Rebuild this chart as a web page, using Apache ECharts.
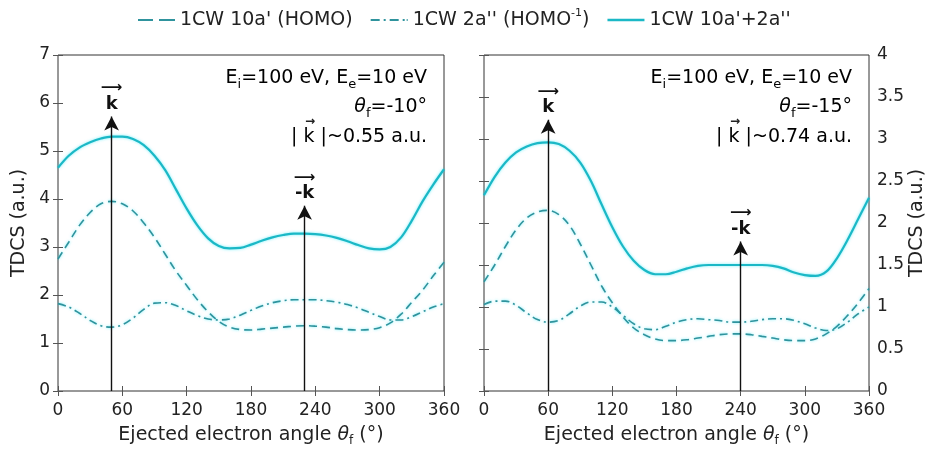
<!DOCTYPE html>
<html>
<head>
<meta charset="utf-8">
<script src="https://cdn.jsdelivr.net/npm/echarts@6/dist/echarts.min.js"></script>
<style>
html,body{margin:0;padding:0;background:#fff;}
#chart{width:935px;height:452px;}
</style>
</head>
<body>
<div id="chart"></div>
<script>
// ---- data ----
const angles = [0,10,20,30,40,50,60,70,80,90,100,110,120,130,140,150,160,170,180,190,200,210,220,230,240,250,260,270,280,290,300,310,320,330,340,350,360];
const seriesNames = ["1CW 10a' (HOMO)", "1CW 2a'' (HOMO-1)", "1CW 10a'+2a''"];

// Left panel (theta_f = -10 deg)
const leftHomo   = [2.75,3.10,3.45,3.72,3.90,3.95,3.90,3.75,3.50,3.20,2.85,2.50,2.20,1.90,1.65,1.45,1.33,1.28,1.27,1.29,1.31,1.33,1.35,1.36,1.35,1.33,1.30,1.28,1.27,1.28,1.32,1.42,1.60,1.85,2.10,2.40,2.68];
const leftHomo1  = [1.82,1.75,1.62,1.47,1.36,1.33,1.38,1.52,1.70,1.83,1.84,1.78,1.67,1.57,1.50,1.48,1.50,1.58,1.68,1.77,1.84,1.88,1.90,1.90,1.90,1.88,1.85,1.80,1.73,1.64,1.55,1.48,1.48,1.55,1.65,1.75,1.82];
const leftSum    = [4.65,4.90,5.07,5.18,5.26,5.30,5.30,5.25,5.12,4.90,4.60,4.20,3.80,3.45,3.18,3.02,2.97,2.98,3.05,3.13,3.20,3.25,3.28,3.28,3.27,3.24,3.19,3.12,3.04,2.97,2.95,3.00,3.20,3.55,3.95,4.30,4.62];

// Right panel (theta_f = -15 deg)
const rightHomo  = [1.30,1.50,1.72,1.92,2.06,2.13,2.15,2.10,1.97,1.75,1.50,1.25,1.05,0.88,0.75,0.67,0.62,0.60,0.60,0.61,0.63,0.65,0.67,0.68,0.68,0.67,0.65,0.63,0.61,0.60,0.60,0.62,0.68,0.77,0.90,1.05,1.22];
const rightHomo1 = [1.03,1.07,1.07,1.02,0.93,0.85,0.82,0.84,0.92,1.01,1.06,1.06,1.00,0.90,0.80,0.74,0.73,0.77,0.82,0.85,0.86,0.85,0.84,0.82,0.82,0.83,0.85,0.86,0.86,0.84,0.80,0.75,0.72,0.74,0.82,0.92,1.00];
const rightSum   = [2.33,2.55,2.72,2.84,2.91,2.95,2.96,2.94,2.86,2.72,2.50,2.22,1.95,1.72,1.55,1.44,1.39,1.39,1.42,1.46,1.49,1.50,1.50,1.50,1.50,1.50,1.50,1.49,1.46,1.41,1.38,1.37,1.42,1.58,1.80,2.05,2.30];

// Momentum arrows: [angle, tip value, label]
const leftArrows  = [[50, 5.72, 'k'], [230, 3.86, '-k']];
const rightArrows = [[60, 3.23, 'k'], [240, 1.78, '-k']];

const leftYTicks  = {min:0, max:7, interval:1};
const rightYTicks = {min:0, max:4, interval:0.5};
const xTickSpec   = {min:0, max:360, interval:60};

// ---- chart ----
const FONT = 'DejaVu Sans';
const TXT = '#222';
const TICK_FS = 17, NAME_FS = 19, ANN_FS = 19, LEG_FS = 19;
const chart = echarts.init(document.getElementById('chart'), null, {renderer:'canvas'});

function pairs(arr){ return angles.map((a,i)=>[a, arr[i]]); }

const dashColor = '#2f939d';
const solidColor = '#1bb8c6';
const halo = {shadowBlur:3, shadowColor:'rgba(0,225,245,0.55)'};
const DASH = [8,5], DASHDOT = [8,4,2,4];

// legend icon shapes (line glyphs)
const ICON_DASH    = 'path://M0,0H15V2H0Z M21,0H37V2H21Z';
const ICON_DASHDOT = 'path://M0,0H9V2H0Z M13,0H15V2H13Z M19,0H28V2H19Z M32,0H34V2H32Z M36,0H37V2H36Z';
const ICON_SOLID   = 'path://M0,0H37V2.4H0Z';

function xAx(grid, pos, labels){
  return {type:'value', gridIndex:grid, position:pos, min:xTickSpec.min, max:xTickSpec.max, interval:xTickSpec.interval,
    axisLine:{show:false}, splitLine:{show:false},
    axisTick:{show:true, inside:true, length:5, lineStyle:{color:'#555'}},
    axisLabel:{show:labels, margin:11, fontSize:TICK_FS, fontFamily:FONT, color:TXT},
    name: labels ? '{n|Ejected electron angle }{it|θ}{sub|f}{n| (°)}' : '',
    nameLocation:'middle', nameGap:32,
    nameTextStyle:{fontFamily:FONT, color:TXT, fontSize:NAME_FS,
      rich:{n:{fontSize:NAME_FS, fontFamily:FONT, color:TXT, lineHeight:24},
            it:{fontSize:NAME_FS, fontFamily:FONT, color:TXT, fontStyle:'italic', lineHeight:24},
            sub:{fontSize:12, fontFamily:FONT, color:TXT, verticalAlign:'bottom', lineHeight:12}}}
  };
}
function yAx(grid, pos, labels, t, gap){
  return {type:'value', gridIndex:grid, position:pos, min:t.min, max:t.max, interval:t.interval,
    axisLine:{show:false}, splitLine:{show:false},
    axisTick:{show:true, inside:true, length:5, lineStyle:{color:'#555'}},
    axisLabel:{show:labels, margin:8, fontSize:TICK_FS, fontFamily:FONT, color:TXT},
    name: labels ? 'TDCS (a.u.)' : '', nameLocation:'middle', nameGap:gap||30, nameRotate:90,
    nameTextStyle:{fontFamily:FONT, color:TXT, fontSize:NAME_FS}
  };
}

function curve(name, data, xi, yi, kind){
  const ls = kind==='solid' ? {color:solidColor, width:2.2, type:'solid'} :
             kind==='dash'  ? {color:dashColor, width:1.6, type:DASH} :
                              {color:dashColor, width:1.6, type:DASHDOT};
  return {type:'line', name:name, data:pairs(data), xAxisIndex:xi, yAxisIndex:yi,
    showSymbol:false, symbol:'none', smooth:0.35, color:ls.color,
    lineStyle:Object.assign({}, ls, halo), z:2, silent:true};
}

function arrowSeries(arrows, xi, yi){
  return {type:'line', name:'arrows', data:[], xAxisIndex:xi, yAxisIndex:yi, z:5, silent:true,
    markLine:{silent:true, symbol:['none','arrow'], symbolSize:[11,14], animation:false,
      lineStyle:{color:'#111', width:1.4, type:'solid'},
      data: arrows.map(a=>[
        {coord:[a[0],0], symbol:'none'},
        {coord:[a[0],a[1]], label:{show:true, position:'end', distance:3,
          formatter:'{ar|⟶}\n{k|'+a[2]+'}',
          rich:{ar:{fontSize:15, fontFamily:FONT, color:'#111', lineHeight:12, align:'center', fontWeight:'bold'},
                k:{fontSize:18, fontFamily:FONT, fontWeight:'bold', color:'#111', lineHeight:19, align:'center'}}}}
      ])
    }};
}

const annRich = {
  n:{fontSize:ANN_FS, fontFamily:FONT, color:TXT, lineHeight:26},
  it:{fontSize:ANN_FS, fontFamily:FONT, color:TXT, fontStyle:'italic', lineHeight:26},
  sub:{fontSize:13, fontFamily:FONT, color:TXT, verticalAlign:'bottom', lineHeight:13}
};
const meas = document.createElement('canvas').getContext('2d');
function textW(s, fs){ meas.font = fs+'px "'+FONT+'"'; return meas.measureText(s).width; }

function annText(x, thetaText, kText){
  const tail = ' |~'+kText+' a.u.';
  const kx = x - textW(tail, ANN_FS) - textW('k', ANN_FS)/2;
  return [
    {type:'text', x:x, y:78, style:{text:'{n|E}{sub|i}{n|=100 eV, E}{sub|e}{n|=10 eV}', rich:annRich, align:'right', verticalAlign:'middle'}},
    {type:'text', x:x, y:107, style:{text:'{it|θ}{sub|f}{n|='+thetaText+'}', rich:annRich, align:'right', verticalAlign:'middle'}},
    {type:'text', x:x, y:137, style:{text:'{n|| k'+tail+'}', rich:annRich, align:'right', verticalAlign:'middle'}},
    {type:'text', x:kx+1, y:122, style:{text:'→', fontSize:12, fontWeight:'bold', fontFamily:FONT, fill:TXT, align:'center', verticalAlign:'middle'}}
  ];
}

const option = {
  animation:false,
  backgroundColor:'#fff',
  legend:{
    top:3, left:133, itemWidth:37, itemHeight:12, itemGap:18, symbolKeepAspect:true,
    data:[
      {name:seriesNames[0], icon:ICON_DASH},
      {name:seriesNames[1], icon:ICON_DASHDOT},
      {name:seriesNames[2], icon:ICON_SOLID}
    ],
    textStyle:{fontFamily:FONT, fontSize:LEG_FS, color:TXT,
      rich:{n:{fontSize:LEG_FS, fontFamily:FONT, color:TXT, lineHeight:24},
            sup:{fontSize:11, fontFamily:FONT, color:TXT, verticalAlign:'top', lineHeight:11}}},
    formatter:function(name){
      if(name===seriesNames[1]) return "{n|1CW 2a'' (HOMO}{sup|-1}{n|)}";
      return '{n|'+name+'}';
    }
  },
  grid:[
    {left:58, right:491, top:55, bottom:59, show:true, borderColor:'#333', borderWidth:1, backgroundColor:'transparent'},
    {left:484, right:66, top:55, bottom:58, show:true, borderColor:'#333', borderWidth:1, backgroundColor:'transparent'}
  ],
  xAxis:[ xAx(0,'bottom',true), xAx(0,'top',false), xAx(1,'bottom',true), xAx(1,'top',false) ],
  yAxis:[ yAx(0,'left',true,leftYTicks,29), yAx(0,'right',false,leftYTicks),
          yAx(1,'right',true,rightYTicks,34), yAx(1,'left',false,rightYTicks) ],
  series:[
    curve(seriesNames[0], leftHomo, 0, 0, 'dash'),
    curve(seriesNames[1], leftHomo1, 0, 0, 'dashdot'),
    curve(seriesNames[2], leftSum, 0, 0, 'solid'),
    curve(seriesNames[0], rightHomo, 2, 2, 'dash'),
    curve(seriesNames[1], rightHomo1, 2, 2, 'dashdot'),
    curve(seriesNames[2], rightSum, 2, 2, 'solid'),
    arrowSeries(leftArrows, 0, 0),
    arrowSeries(rightArrows, 2, 2)
  ],
  graphic: [].concat(annText(427, '-10°', '0.55'), annText(852, '-15°', '0.74'))
};
chart.setOption(option);
</script>
</body>
</html>
